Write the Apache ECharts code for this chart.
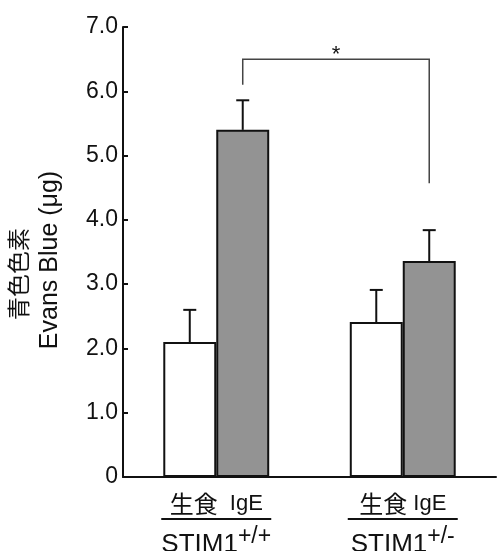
<!DOCTYPE html>
<html><head><meta charset="utf-8">
<script src="https://cdn.jsdelivr.net/npm/echarts@6/dist/echarts.min.js"></script>
<style>html,body{margin:0;padding:0;background:#fff}#c{width:497px;height:551px}</style>
</head><body><div id="c"></div>
<script>
const categories = ['STIM1+/+', 'STIM1+/-'];
const treatmentCJK = ['生食', '生食'];
const treatmentIgE = ['  IgE', ' IgE'];
const genotypeBase = ['STIM1', 'STIM1'];
const genotypeSup = ['+/+', '+/-'];
const salineValues = [2.10, 2.41];
const salineErrTop = [2.60, 2.91];
const igeValues = [5.40, 3.36];
const igeErrTop = [5.86, 3.84];
const sigBracket = [6.50, 6.10, 4.57]; // top, left end, right end
const sigMark = '*';
const yAxisName1 = '青色色素';
const yAxisName2 = 'Evans Blue (μg)';

const FONT = "'Liberation Sans', Arial, 'Noto Sans CJK JP', sans-serif";
const CJK = "'Noto Sans CJK JP', sans-serif";
const BAR_FRAC = 0.284;

const chart = echarts.init(document.getElementById('c'));

function errRender(offSign) {
  return function (params, api) {
    const i = api.value(0);
    const band = api.size([1, 0])[0];
    const off = offSign * band * BAR_FRAC / 2;
    const p0 = api.coord([i, api.value(1)]);
    const p1 = api.coord([i, api.value(2)]);
    const x = p0[0] + off;
    const cap = 6.5;
    return {
      type: 'group',
      children: [
        {type: 'line', shape: {x1: x, y1: p0[1], x2: x, y2: p1[1]}, style: {stroke: '#111', lineWidth: 2}},
        {type: 'line', shape: {x1: x - cap, y1: p1[1], x2: x + cap, y2: p1[1]}, style: {stroke: '#111', lineWidth: 2}}
      ]
    };
  };
}

const option = {
  animation: false,
  backgroundColor: '#fff',
  grid: {left: 123, right: 1, top: 27, bottom: 74, containLabel: false, outerBoundsMode: 'none'},
  xAxis: {
    type: 'category',
    data: categories,
    axisLine: {lineStyle: {color: '#111', width: 2}},
    axisTick: {inside: true, length: 6, lineStyle: {color: '#111', width: 2}},
    axisLabel: {
      margin: 13,
      interval: 0,
      formatter: function (v, idx) {
        return '{c|' + treatmentCJK[idx] + '}{a|' + treatmentIgE[idx] + '}\n{l|}\n{b|' + genotypeBase[idx] + '}{s|' + genotypeSup[idx] + '}';
      },
      rich: {
        c: {fontSize: 24, fontFamily: CJK, color: '#111', lineHeight: 28},
        a: {fontSize: 22, fontFamily: FONT, color: '#111', lineHeight: 28},
        l: {width: 110, height: 2, backgroundColor: '#111', lineHeight: 2},
        b: {fontSize: 26, fontFamily: FONT, color: '#111', lineHeight: 50, verticalAlign: 'middle'},
        s: {fontSize: 23, fontFamily: FONT, color: '#111', lineHeight: 20, padding: [0, 0, 16, 0], verticalAlign: 'middle'}
      }
    }
  },
  yAxis: {
    type: 'value',
    min: 0, max: 7, interval: 1,
    axisLine: {show: true, lineStyle: {color: '#111', width: 2}},
    axisTick: {show: true, inside: true, length: 5, lineStyle: {color: '#111', width: 2}},
    splitLine: {show: false},
    axisLabel: {
      margin: 5,
      fontSize: 23,
      fontFamily: FONT,
      color: '#111',
      formatter: function (v) { return v === 0 ? '0' : v.toFixed(1); }
    }
  },
  graphic: [
    {type: 'text', x: 18, y: 274, rotation: Math.PI / 2,
      style: {text: yAxisName1, fontSize: 23, fontFamily: CJK, fill: '#111', textAlign: 'center', textVerticalAlign: 'middle'}},
    {type: 'text', x: 50, y: 260, rotation: Math.PI / 2,
      style: {text: yAxisName2, fontSize: 25, fontFamily: FONT, fill: '#111', textAlign: 'center', textVerticalAlign: 'middle'}}
  ],
  series: [
    {type: 'bar', data: salineValues, barWidth: (BAR_FRAC * 100) + '%', barGap: '0%',
      itemStyle: {color: '#fff', borderColor: '#111', borderWidth: 2}, z: 2},
    {type: 'bar', data: igeValues, barWidth: (BAR_FRAC * 100) + '%', barGap: '0%',
      itemStyle: {color: '#939393', borderColor: '#111', borderWidth: 2}, z: 2},
    {type: 'custom', data: categories.map((c, i) => [i, salineValues[i], salineErrTop[i]]),
      renderItem: errRender(-1), z: 1},
    {type: 'custom', data: categories.map((c, i) => [i, igeValues[i], igeErrTop[i]]),
      renderItem: errRender(1), z: 1},
    {type: 'custom', data: [[0, 1, sigBracket[0], sigBracket[1], sigBracket[2]]],
      renderItem: function (params, api) {
        const band = api.size([1, 0])[0];
        const off = band * BAR_FRAC / 2;
        const a = api.coord([api.value(0), api.value(3)]);
        const at = api.coord([api.value(0), api.value(2)]);
        const b = api.coord([api.value(1), api.value(4)]);
        const bt = api.coord([api.value(1), api.value(2)]);
        const xa = a[0] + off, xb = b[0] + off;
        return {
          type: 'group',
          children: [
            {type: 'polyline', shape: {points: [[xa, a[1]], [xa, at[1]], [xb, bt[1]], [xb, b[1]]]},
              style: {stroke: '#444', lineWidth: 1.5, fill: 'none'}},
            {type: 'text', x: (xa + xb) / 2, y: at[1] + 7,
              style: {text: sigMark, fontSize: 22, fontFamily: FONT, fill: '#111', textAlign: 'center', textVerticalAlign: 'bottom'}}
          ]
        };
      }, z: 3}
  ]
};
chart.setOption(option);
</script></body></html>
